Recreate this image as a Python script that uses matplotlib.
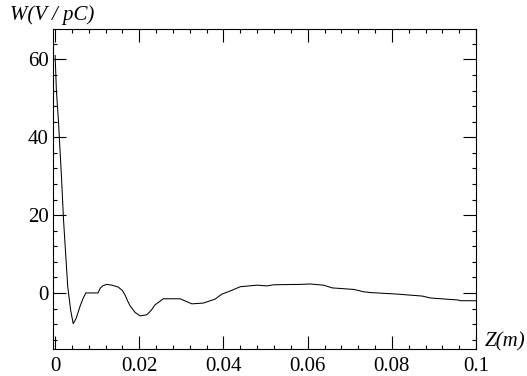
import numpy as np
import matplotlib
matplotlib.use("Agg")
import matplotlib.pyplot as plt
from matplotlib.ticker import MultipleLocator, FuncFormatter

# wake potential
z_m = [0.0, 0.0003, 0.0008, 0.0015, 0.0020, 0.0030, 0.0037, 0.0043, 0.0050,
       0.0059, 0.0066, 0.0073, 0.0102, 0.0107, 0.0113, 0.0122, 0.0135, 0.0150,
       0.0160, 0.0166, 0.0172, 0.0178, 0.0190, 0.0202, 0.0218, 0.0228, 0.0237,
       0.0257, 0.0297, 0.0325, 0.0352, 0.0380, 0.0396, 0.0416, 0.0440, 0.0480,
       0.0503, 0.0519, 0.0583, 0.0606, 0.0638, 0.0658, 0.0710, 0.0733, 0.0749,
       0.0813, 0.0872, 0.0892, 0.0956, 0.0964, 0.1000]
w_vpc = [61.0, 52.0, 44.0, 30.0, 18.7, 1.6, -4.5, -7.9, -6.5,
         -3.5, -1.5, 0.0, 0.0, 1.2, 1.8, 2.2, 2.0, 1.5,
         0.6, -0.5, -2.0, -3.3, -5.0, -5.9, -5.6, -4.5, -3.1,
         -1.5, -1.5, -2.8, -2.6, -1.6, -0.3, 0.5, 1.6, 2.0,
         1.8, 2.1, 2.2, 2.3, 2.0, 1.3, 0.9, 0.3, 0.1,
         -0.3, -0.8, -1.3, -1.8, -2.0, -2.0]

plt.rcParams['font.family'] = ['Liberation Serif', 'DejaVu Serif']

fig = plt.figure(figsize=(5.27, 3.76), dpi=100)
ax = fig.add_axes([0.1006, 0.0718, 0.8027, 0.8511])

ax.plot(z_m, w_vpc, color="black", lw=0.75)

ax.set_xlim(-0.0005, 0.1)
ax.set_ylim(-14.4, 67.8)

ax.xaxis.set_major_locator(MultipleLocator(0.02))
ax.xaxis.set_minor_locator(MultipleLocator(0.004))
ax.yaxis.set_major_locator(MultipleLocator(20))
ax.yaxis.set_minor_locator(MultipleLocator(4))
ax.xaxis.set_major_formatter(FuncFormatter(lambda v, p: "0" if abs(v) < 1e-9 else f"{v:g}"))

ax.tick_params(which="both", direction="in", top=True, right=True,
               labelsize=15, width=0.8, color="black")
ax.tick_params(which="major", length=9.5)
ax.tick_params(axis="x", which="major", pad=6)
ax.tick_params(axis="y", which="major", pad=3)
ax.tick_params(which="minor", length=3.2)
for s in ax.spines.values():
    s.set_linewidth(0.8)

fig.text(10 / 527, 1 - 15 / 376, "W(V / pC)", ha="left", va="center",
         fontsize=15, style="italic")
fig.text(485 / 527, 1 - 342 / 376, "Z(m)", ha="left", va="center",
         fontsize=15, style="italic")

fig.savefig("out.png", dpi=100)
